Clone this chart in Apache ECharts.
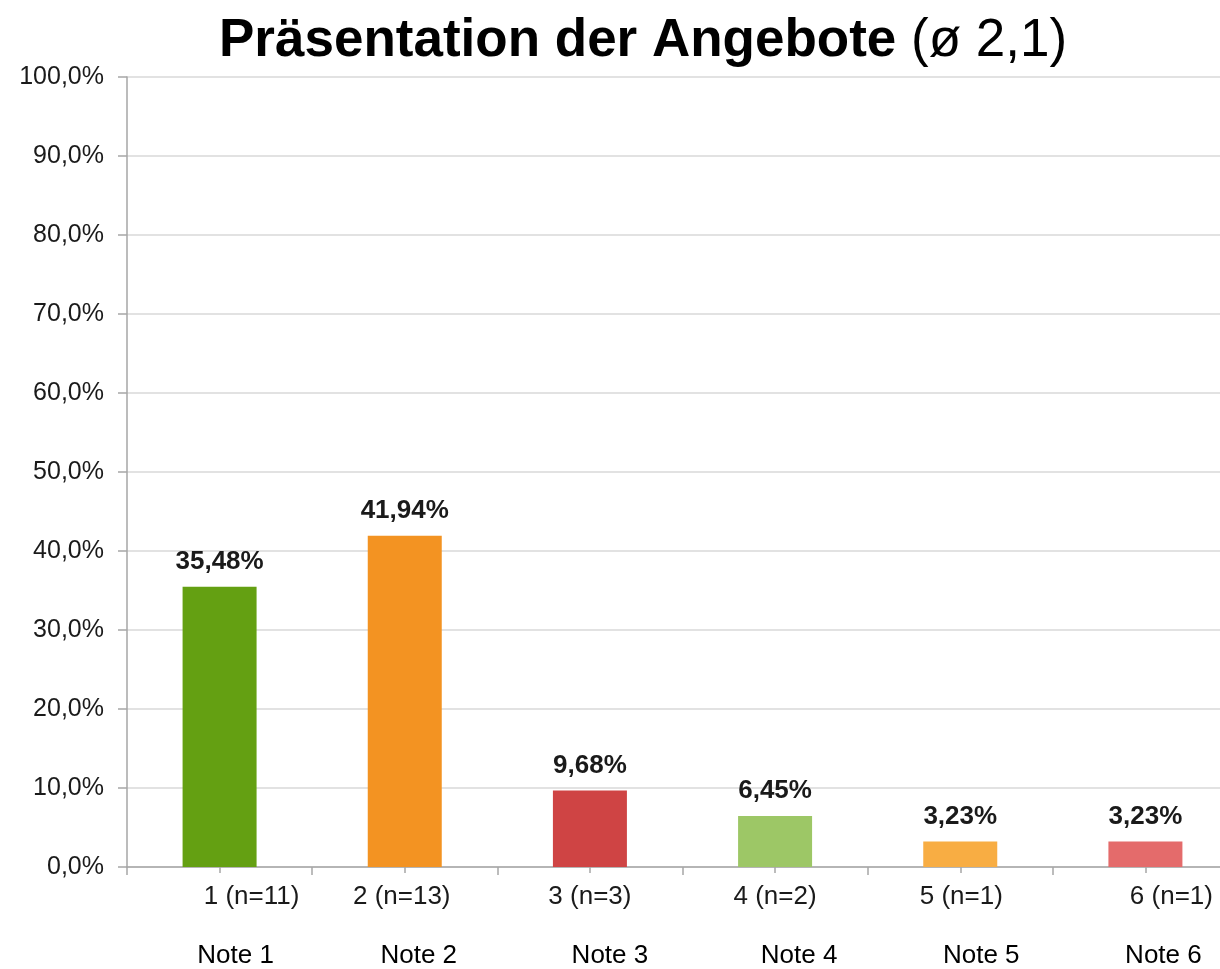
<!DOCTYPE html>
<html>
<head>
<meta charset="utf-8">
<script src="https://cdn.jsdelivr.net/npm/echarts@6/dist/echarts.min.js"></script>
<style>
  html, body { margin: 0; padding: 0; background: #fff; overflow: hidden; }
  /* the original is cropped: the plot runs a little past the right edge */
  #chart { width: 1238px; height: 969px; }
</style>
</head>
<body>
<div id="chart"></div>
<script>
// values
const categories = ['1 (n=11)', '2 (n=13)', '3 (n=3)', '4 (n=2)', '5 (n=1)', '6 (n=1)'];
const noteLabels = ['Note 1', 'Note 2', 'Note 3', 'Note 4', 'Note 5', 'Note 6'];
const shares = [35.48, 41.94, 9.68, 6.45, 3.23, 3.23];
const yMin = 0;
const yMax = 100;
const yStep = 10;

const barColors = ['#64a012', '#f39322', '#cf4444', '#9dc766', '#f8ad43', '#e46b6b'];
// small nudges so the labels sit where the original puts them
const catShift = [32, -3, 0, 0, 1, 26];
const noteShift = [16, 14, 20, 24, 21, 18];

const font = 'Liberation Sans, Arial, sans-serif';
const axisGrey = '#a6a6a6';

const shiftLabel = (text, dx) => ({
    value: text,
    textStyle: { padding: dx >= 0 ? [0, 0, 0, dx * 2] : [0, -dx * 2, 0, 0] }
});

const chart = echarts.init(document.getElementById('chart'), null, { renderer: 'canvas' });

chart.setOption({
    backgroundColor: '#fff',
    animation: false,
    title: {
        text: '{b|Präsentation der Angebote}{n| (ø 2,1)}',
        left: 214,
        top: 10,
        textStyle: {
            rich: {
                b: { fontFamily: font, fontSize: 53, fontWeight: 'bold', color: '#000' },
                n: { fontFamily: font, fontSize: 53, fontWeight: 'normal', color: '#000' }
            }
        }
    },
    grid: { left: 127, right: 0, top: 77, bottom: 102 },
    xAxis: [
        {
            type: 'category',
            data: categories.map((c, i) => shiftLabel(c, catShift[i])),
            axisLine: { lineStyle: { color: axisGrey, width: 1.5 } },
            axisTick: { show: true, length: 8, lineStyle: { color: axisGrey, width: 1.5 } },
            axisLabel: { fontFamily: font, fontSize: 26, color: '#1a1a1a', margin: 17, interval: 0 }
        },
        {
            // centre ticks under each bar
            type: 'category',
            data: categories,
            position: 'bottom',
            axisLine: { show: false },
            axisTick: { show: true, alignWithLabel: true, length: 6, lineStyle: { color: axisGrey, width: 1.5 } },
            axisLabel: { show: false }
        },
        {
            type: 'category',
            data: noteLabels.map((c, i) => shiftLabel(c, noteShift[i])),
            position: 'bottom',
            offset: 59,
            axisLine: { show: false },
            axisTick: { show: false },
            axisLabel: { fontFamily: font, fontSize: 26, color: '#000', margin: 17, interval: 0 }
        }
    ],
    yAxis: {
        type: 'value',
        min: yMin,
        max: yMax,
        interval: yStep,
        axisLine: { show: true, lineStyle: { color: axisGrey, width: 1.5 } },
        axisTick: { show: true, length: 9, lineStyle: { color: axisGrey, width: 1.5 } },
        splitLine: { lineStyle: { color: '#d9d9d9', width: 1.5 } },
        axisLabel: {
            fontFamily: font,
            fontSize: 25,
            color: '#1a1a1a',
            margin: 23,
            formatter: v => v.toFixed(1).replace('.', ',') + '%'
        }
    },
    series: [{
        type: 'bar',
        barWidth: 74,
        data: shares.map((v, i) => ({ value: v, itemStyle: { color: barColors[i] } })),
        label: {
            show: true,
            position: 'top',
            distance: 12,
            fontFamily: font,
            fontSize: 26,
            fontWeight: 'bold',
            color: '#1a1a1a',
            formatter: p => p.value.toFixed(2).replace('.', ',') + '%'
        }
    }]
});
</script>
</body>
</html>
